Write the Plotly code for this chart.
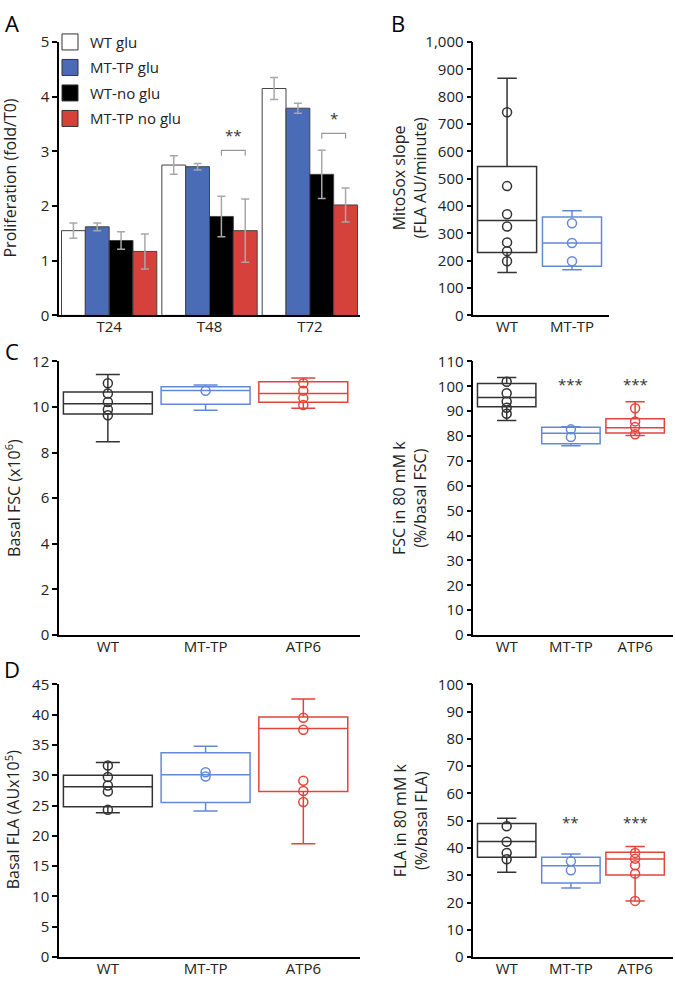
import plotly.graph_objects as go

# ---------------- data ----------------
# Panel A: proliferation
timepoints = ["T24", "T48", "T72"]
group_names = ["WT glu", "MT-TP glu", "WT-no glu", "MT-TP no glu"]
prolif_wt_glu = [1.55, 2.75, 4.15]
prolif_mt_glu = [1.62, 2.72, 3.79]
prolif_wt_noglu = [1.37, 1.81, 2.58]
prolif_mt_noglu = [1.17, 1.55, 2.02]
err_wt_glu = [0.14, 0.17, 0.20]
err_mt_glu = [0.07, 0.06, 0.09]
err_wt_noglu = [0.16, 0.37, 0.44]
err_mt_noglu = [0.32, 0.58, 0.31]
sig_A_labels = ["**", "*"]
sig_A_groups = [1, 2]
sig_A_levels = [3.02, 3.33]

# Box panels: stats = [lower whisker, q1, median, q3, upper whisker]
genotypes3 = ["WT", "MT-TP", "ATP6"]
genotypes2 = ["WT", "MT-TP"]

mitosox_wt_stats = [157, 230, 347, 545, 868]
mitosox_mt_stats = [167, 180, 265, 360, 383]
mitosox_wt_pts = [743, 473, 370, 325, 267, 235, 198]
mitosox_mt_pts = [337, 265, 198]

fsc_wt_stats = [8.48, 9.70, 10.14, 10.66, 11.43]
fsc_mt_stats = [9.86, 10.12, 10.73, 10.89, 10.97]
fsc_atp6_stats = [9.95, 10.21, 10.59, 11.11, 11.27]
fsc_wt_pts = [11.04, 10.59, 10.22, 9.89, 9.64]
fsc_mt_pts = [10.71]
fsc_atp6_pts = [11.04, 10.72, 10.39, 10.09]

fsck_wt_stats = [86.3, 91.8, 95.5, 101.1, 103.5]
fsck_mt_stats = [76.1, 76.9, 81.1, 83.5, 83.7]
fsck_atp6_stats = [80.2, 81.2, 83.3, 87.0, 93.8]
fsck_wt_pts = [101.8, 97.2, 93.9, 91.4, 89.0]
fsck_mt_pts = [82.7, 79.6]
fsck_atp6_pts = [91.2, 85.9, 83.6, 80.7]
sig_fsck = ["", "***", "***"]
sig_fsck_level = 101.0

fla_wt_stats = [23.8, 24.8, 28.1, 30.0, 32.1]
fla_mt_stats = [24.1, 25.5, 30.1, 33.7, 34.8]
fla_atp6_stats = [18.7, 27.3, 37.7, 39.6, 42.6]
fla_wt_pts = [31.6, 29.7, 28.3, 27.3, 24.3]
fla_mt_pts = [30.5, 29.8]
fla_atp6_pts = [39.5, 37.5, 29.1, 27.4, 25.6]

flak_wt_stats = [31.1, 36.6, 42.4, 49.0, 50.9]
flak_mt_stats = [25.3, 27.2, 33.5, 36.6, 37.8]
flak_atp6_stats = [20.6, 30.1, 36.0, 38.4, 40.5]
flak_wt_pts = [48.0, 42.3, 38.2, 35.9]
flak_mt_pts = [35.1, 31.8]
flak_atp6_pts = [38.2, 36.1, 33.7, 30.6, 20.6]
sig_flak = ["", "**", "***"]
sig_flak_level = 49.5

# ---------------- style ----------------
FONT = "Open Sans"
TXT = "#222222"
C_WHITE = "#ffffff"
C_BLUE_BAR = "#4a6bb6"
C_BLACK = "#000000"
C_RED_BAR = "#d7413b"
C_BOX_BLACK = "#333333"
C_BOX_BLUE = "#6389d6"
C_BOX_RED = "#e2443b"
ERR = "#a8a8a8"
W, H = 675, 985


def px_x(p):
    return p / W


def px_y(p):
    return 1 - p / H


fig = go.Figure()

# ---------------- Panel A ----------------
bar_sets = [
    (prolif_wt_glu, err_wt_glu, C_WHITE),
    (prolif_mt_glu, err_mt_glu, C_BLUE_BAR),
    (prolif_wt_noglu, err_wt_noglu, C_BLACK),
    (prolif_mt_noglu, err_mt_noglu, C_RED_BAR),
]
xpos = list(range(len(timepoints)))
for (vals, errs, col), name in zip(bar_sets, group_names):
    fig.add_trace(go.Bar(
        x=xpos, y=vals, name=name, marker=dict(color=col, line=dict(color="#444444", width=1)),
        error_y=dict(type="data", array=errs, color=ERR, thickness=1.5, width=4),
        showlegend=False, hoverinfo="skip", xaxis="x", yaxis="y"))
# legend entries
for (vals, errs, col), name in zip(bar_sets, group_names):
    fig.add_trace(go.Scatter(
        x=[None], y=[None], mode="markers", name=name, legendgroup=name,
        marker=dict(symbol="square", size=16, color=col, line=dict(color="#333333", width=1)),
        xaxis="x", yaxis="y"))

nb = 4
bw = (1 - 0.05) / nb
off_black = -0.5 * (1 - 0.05) + bw * 2.5
off_red = -0.5 * (1 - 0.05) + bw * 3.5
for lab, g, lvl in zip(sig_A_labels, sig_A_groups, sig_A_levels):
    xa, xb = g + off_black, g + off_red
    fig.add_trace(go.Scatter(x=[xa, xa, xb, xb], y=[lvl - 0.1, lvl, lvl, lvl - 0.1], mode="lines",
                             line=dict(color="#999999", width=1.2), showlegend=False,
                             hoverinfo="skip", xaxis="x", yaxis="y"))
    fig.add_annotation(x=(xa + xb) / 2, y=lvl + 0.06, xref="x", yref="y", text=lab, showarrow=False,
                       yanchor="bottom", font=dict(family=FONT, size=15, color="#333333"))


# ---------------- box panels ----------------
def add_box(ax, pos, stats, pts, color, ww):
    fig.add_trace(go.Box(
        x=[pos], lowerfence=[stats[0]], q1=[stats[1]], median=[stats[2]], q3=[stats[3]],
        upperfence=[stats[4]], width=0.91, whiskerwidth=ww,
        line=dict(color=color, width=1.5), fillcolor="rgba(0,0,0,0)", boxpoints=False,
        showlegend=False, hoverinfo="skip", xaxis="x" + ax, yaxis="y" + ax))
    fig.add_trace(go.Scatter(
        x=[pos] * len(pts), y=pts, mode="markers",
        marker=dict(symbol="circle-open", size=9, color=color, line=dict(width=1.5, color=color)),
        showlegend=False, hoverinfo="skip", xaxis="x" + ax, yaxis="y" + ax))


add_box("2", 0, mitosox_wt_stats, mitosox_wt_pts, C_BOX_BLACK, 0.33)
add_box("2", 1, mitosox_mt_stats, mitosox_mt_pts, C_BOX_BLUE, 0.33)

add_box("3", 0, fsc_wt_stats, fsc_wt_pts, C_BOX_BLACK, 0.27)
add_box("3", 1, fsc_mt_stats, fsc_mt_pts, C_BOX_BLUE, 0.27)
add_box("3", 2, fsc_atp6_stats, fsc_atp6_pts, C_BOX_RED, 0.27)

add_box("4", 0, fsck_wt_stats, fsck_wt_pts, C_BOX_BLACK, 0.33)
add_box("4", 1, fsck_mt_stats, fsck_mt_pts, C_BOX_BLUE, 0.33)
add_box("4", 2, fsck_atp6_stats, fsck_atp6_pts, C_BOX_RED, 0.33)

add_box("5", 0, fla_wt_stats, fla_wt_pts, C_BOX_BLACK, 0.27)
add_box("5", 1, fla_mt_stats, fla_mt_pts, C_BOX_BLUE, 0.27)
add_box("5", 2, fla_atp6_stats, fla_atp6_pts, C_BOX_RED, 0.27)

add_box("6", 0, flak_wt_stats, flak_wt_pts, C_BOX_BLACK, 0.33)
add_box("6", 1, flak_mt_stats, flak_mt_pts, C_BOX_BLUE, 0.33)
add_box("6", 2, flak_atp6_stats, flak_atp6_pts, C_BOX_RED, 0.33)

for i, s in enumerate(sig_fsck):
    if s:
        fig.add_annotation(x=i, y=sig_fsck_level, xref="x4", yref="y4", text=s, showarrow=False,
                           font=dict(family=FONT, size=15, color="#333333"))
for i, s in enumerate(sig_flak):
    if s:
        fig.add_annotation(x=i, y=sig_flak_level, xref="x6", yref="y6", text=s, showarrow=False,
                           font=dict(family=FONT, size=15, color="#333333"))

# ---------------- axes ----------------
tickfont = dict(family=FONT, size=15, color=TXT)


def xax(dom, rng, labels, anchor):
    return dict(domain=dom, range=rng, anchor=anchor, tickmode="array",
                tickvals=list(range(len(labels))), ticktext=labels, ticks="", showgrid=False,
                zeroline=False, showline=True, linecolor="black", linewidth=1.5, tickfont=tickfont,
                ticklabelstandoff=-3, fixedrange=True)


def yax(dom, rng, dtick, anchor, fmt=None):
    d = dict(domain=dom, range=rng, anchor=anchor, dtick=dtick, tick0=0, ticks="outside", ticklen=5,
             tickwidth=1.5, tickcolor="black", showgrid=False, zeroline=False, showline=True,
             linecolor="black", linewidth=1.5, tickfont=tickfont, fixedrange=True)
    if fmt:
        d["tickformat"] = fmt
    return d


domA_y = [px_y(310.7), px_y(31.7)]
domC_y = [px_y(637), px_y(357.7)]
domD_y = [px_y(965.7), px_y(687.3)]
dom_left = [px_x(59), px_x(360)]
dom_B = [px_x(473.3), px_x(609)]
dom_right = [px_x(473.3), px_x(673)]

fig.update_layout(
    xaxis=xax(dom_left, [-0.5, 2.5], timepoints, "y"),
    yaxis=yax(domA_y, [0, 5], 1, "x"),
    xaxis2=xax(dom_B, [-0.52, 1.57], genotypes2, "y2"),
    yaxis2=yax(domA_y, [0, 1000], 100, "x2", ","),
    xaxis3=xax(dom_left, [-0.5, 2.58], genotypes3, "y3"),
    yaxis3=yax(domC_y, [0, 12], 2, "x3"),
    xaxis4=xax(dom_right, [-0.52, 2.59], genotypes3, "y4"),
    yaxis4=yax(domC_y, [0, 110], 10, "x4"),
    xaxis5=xax(dom_left, [-0.5, 2.58], genotypes3, "y5"),
    yaxis5=yax(domD_y, [0, 45], 5, "x5"),
    xaxis6=xax(dom_right, [-0.52, 2.59], genotypes3, "y6"),
    yaxis6=yax(domD_y, [0, 100], 10, "x6"),
    barmode="group", bargap=0.05, bargroupgap=0,
    boxmode="overlay",
    width=W, height=H, margin=dict(l=0, r=0, t=0, b=0),
    paper_bgcolor="white", plot_bgcolor="white",
    font=dict(family=FONT, size=15, color=TXT),
    legend=dict(x=px_x(50), y=px_y(15), xanchor="left", yanchor="top", bgcolor="rgba(0,0,0,0)",
                font=dict(family=FONT, size=15, color=TXT), traceorder="grouped", tracegroupgap=3,
                itemclick=False, itemdoubleclick=False),
)

# axis titles as annotations
title_font = dict(family=FONT, size=16, color=TXT)
ytitles = [
    ("Proliferation (fold/T0)", 10, 171),
    ("MitoSox slope<br>(FLA AU/minute)", 410, 171),
    ("Basal FSC (x10<sup>6</sup>)", 13, 497),
    ("FSC in 80 mM k<br>(%/basal FSC)", 410, 497),
    ("Basal FLA (AUx10<sup>5</sup>)", 13, 826),
    ("FLA in 80 mM k<br>(%/basal FLA)", 410, 826),
]
for t, xp, yp in ytitles:
    fig.add_annotation(x=px_x(xp), y=px_y(yp), xref="paper", yref="paper", text=t, textangle=-90,
                       showarrow=False, xanchor="center", yanchor="middle", font=title_font)

letters = [("A", 12, 12), ("B", 398, 12), ("C", 12, 347), ("D", 12, 672)]
for t, xp, yp in letters:
    fig.add_annotation(x=px_x(xp), y=px_y(yp), xref="paper", yref="paper", text=t, showarrow=False,
                       xanchor="center", yanchor="middle", font=dict(family=FONT, size=22, color="black"))

fig.write_html("out.html", config={"displayModeBar": False},
               post_script="document.body.style.margin='0';document.body.style.overflow='hidden';")
